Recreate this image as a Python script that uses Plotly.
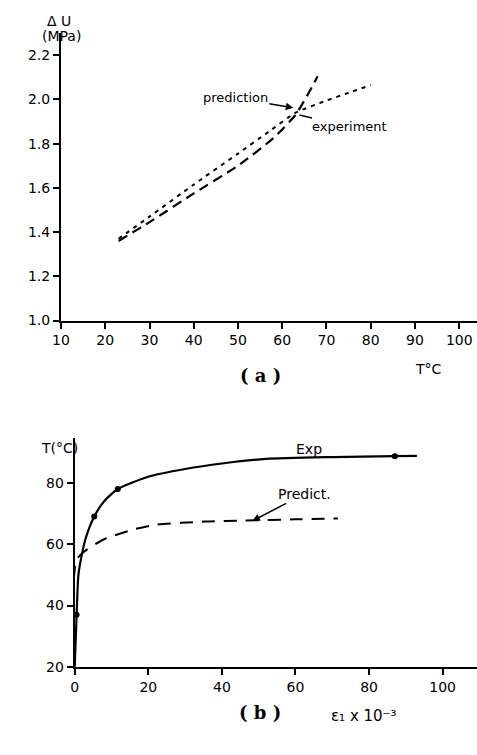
import plotly.graph_objects as go

W, H = 477, 755

# ---- Panel (a) data ----
exp_T = [23, 30, 40, 50, 57, 63, 70, 75, 80]
exp_dU = [1.37, 1.47, 1.615, 1.755, 1.855, 1.94, 1.995, 2.03, 2.065]
pred_T = [23, 30, 40, 50, 58, 63, 66, 68]
pred_dU = [1.36, 1.445, 1.575, 1.70, 1.825, 1.93, 2.03, 2.105]
a_xticks = [10, 20, 30, 40, 50, 60, 70, 80, 90, 100]
a_yticks = [1.0, 1.2, 1.4, 1.6, 1.8, 2.0, 2.2]

# ---- Panel (b) data ----
b_exp_eps = [0.0, 0.3, 0.6, 1.0, 2.0, 3.0, 5.3, 8.0, 11.7, 20, 30, 40, 52, 70, 87, 93]
b_exp_T = [20, 30, 40, 50, 57, 62, 69, 74, 78, 82, 84.5, 86.3, 87.8, 88.4, 88.7, 88.8]
b_mark_eps = [0.5, 5.3, 11.7, 87]
b_mark_T = [37, 69, 78, 88.7]
b_pred_eps = [-1.0, -0.8, -0.3, 0.5, 2.7, 8, 16, 22, 35.5, 46, 60, 71.5]
b_pred_T = [20, 35, 48, 55, 57.7, 61.6, 64.8, 66.3, 67.4, 67.7, 68.1, 68.4]
b_xticks = [0, 20, 40, 60, 80, 100]
b_yticks = [20, 40, 60, 80]


def px2paper_x(px):
    return px / W


def px2paper_y(py):
    return 1 - py / H


fig = go.Figure()

fig.add_trace(go.Scatter(x=exp_T, y=exp_dU, mode="lines", line=dict(color="black", width=2, dash="4px,5px", shape="spline", smoothing=0.5), xaxis="x", yaxis="y"))
fig.add_trace(go.Scatter(x=pred_T, y=pred_dU, mode="lines", line=dict(color="black", width=2.2, dash="10px,6px", shape="spline", smoothing=0.5), xaxis="x", yaxis="y"))

fig.add_trace(go.Scatter(x=b_exp_eps, y=b_exp_T, mode="lines", line=dict(color="black", width=2.2, shape="spline", smoothing=0.6), xaxis="x2", yaxis="y2"))
fig.add_trace(go.Scatter(x=b_pred_eps, y=b_pred_T, mode="lines", line=dict(color="black", width=2, dash="13px,9px", shape="spline", smoothing=0.6), xaxis="x2", yaxis="y2"))
fig.add_trace(go.Scatter(x=b_mark_eps, y=b_mark_T, mode="markers", marker=dict(color="black", size=6), xaxis="x2", yaxis="y2"))

tickfont = dict(family="DejaVu Sans", size=14, color="black")
axis_common = dict(showgrid=False, zeroline=False, showline=True, linecolor="black", linewidth=2,
                   ticks="outside", ticklen=6, tickwidth=1.5, tickcolor="black", tickfont=tickfont)

fig.update_layout(
    width=W, height=H,
    margin=dict(l=0, r=0, t=0, b=0),
    paper_bgcolor="white", plot_bgcolor="white",
    showlegend=False,
    xaxis=dict(domain=[px2paper_x(53), 1.0], range=[10, 10 + 424 / 45.1 * 10], tickvals=a_xticks,
               anchor="y", **axis_common),
    yaxis=dict(domain=[px2paper_y(324), px2paper_y(33)], range=[1.0, 1.0 + 291 / 44.7 * 0.2], tickvals=a_yticks,
               tickformat=".1f", anchor="x", **axis_common),
    xaxis2=dict(domain=[px2paper_x(67), 1.0], range=[0, 410 / 75 * 20], tickvals=b_xticks,
                anchor="y2", **axis_common),
    yaxis2=dict(domain=[px2paper_y(674), px2paper_y(443)], range=[20, 20 + 231 / 62 * 20], tickvals=b_yticks,
                anchor="x2", **axis_common),
)

lab = dict(family="DejaVu Sans", size=14, color="black")
small = dict(family="DejaVu Sans", size=13, color="black")
serif = dict(family="DejaVu Serif", size=18, color="black", weight="bold")

annotations = [
    dict(text="Δ U", x=px2paper_x(37), y=px2paper_y(11), xref="paper", yref="paper", showarrow=False, font=lab),
    dict(text="(MPa)", x=px2paper_x(32), y=px2paper_y(26), xref="paper", yref="paper", showarrow=False, font=lab),
    dict(text="T°C", x=px2paper_x(443), y=px2paper_y(373), xref="paper", yref="paper", showarrow=False, font=lab),
    dict(text="( a )", x=px2paper_x(256), y=px2paper_y(380), xref="paper", yref="paper", showarrow=False, font=serif),
    dict(text="prediction", x=62.5, y=1.962, xref="x", yref="y", ax=-58, ay=-10, showarrow=True,
         arrowhead=2, arrowsize=1, arrowwidth=1.5, arrowcolor="black", font=small, standoff=0),
    dict(text="experiment", x=63.9, y=1.93, xref="x", yref="y", ax=50, ay=12, showarrow=True,
         arrowhead=0, arrowwidth=1.5, arrowcolor="black", font=small),
    dict(text="T(°C)", x=px2paper_x(31), y=px2paper_y(453), xref="paper", yref="paper", showarrow=False, font=lab),
    dict(text="Exp", x=63.7, y=91.0, xref="x2", yref="y2", showarrow=False, font=lab),
    dict(text="Predict.", x=48.3, y=67.6, xref="x2", yref="y2", ax=52, ay=-27, showarrow=True,
         arrowhead=2, arrowsize=1, arrowwidth=1.5, arrowcolor="black", font=lab),
    dict(text="( b )", x=px2paper_x(256), y=px2paper_y(733), xref="paper", yref="paper", showarrow=False, font=serif),
    dict(text="ε₁ x 10⁻³", x=px2paper_x(398), y=px2paper_y(735), xref="paper", yref="paper",
         showarrow=False, font=dict(family="DejaVu Sans", size=15, color="black")),
]
fig.update_layout(annotations=annotations)

fig.write_html("out.html")
